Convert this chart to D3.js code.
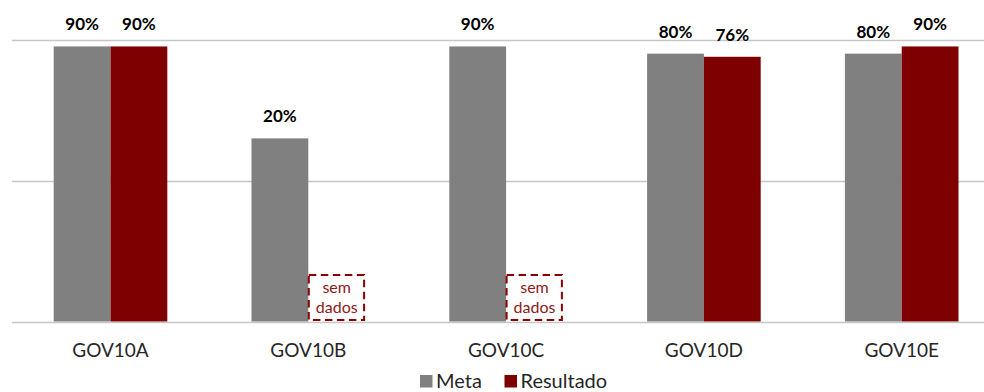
<!DOCTYPE html>
<html><head><meta charset="utf-8">
<script src="https://cdn.jsdelivr.net/npm/d3@7"></script>
<style>html,body{margin:0;padding:0;background:#fff;}svg{display:block;}</style>
</head><body>
<svg id="c" width="984" height="392"></svg>
<script>
const categories = ["GOV10A","GOV10B","GOV10C","GOV10D","GOV10E"];
const seriesNames = ["Meta","Resultado"];
const meta = [90, 20, 90, 80, 80];
const resultado = [90, null, null, 76, 90];
const noDataText = ["sem", "dados"];
const colors = { Meta: "#808080", Resultado: "#7f0000" };

const svg = d3.select("#c");
const FONT = "Lato, 'Open Sans', sans-serif";

const x0 = d3.scaleBand().domain(categories).range([11.6, 1000.6]).padding(0);
const step = x0.bandwidth();
const barW = 56.8;
const x1 = d3.scaleBand().domain(seriesNames).range([step/2 - barW, step/2 + barW]).padding(0);
const y = d3.scaleLog().domain([1, 100]).range([321.5, 40]);

// gridlines
svg.append("g").selectAll("line").data([1, 10, 100]).join("line")
  .attr("x1", 12).attr("x2", 984)
  .attr("y1", d => Math.round(y(d)) + 0.5).attr("y2", d => Math.round(y(d)) + 0.5)
  .attr("stroke", "#c6c6c6").attr("stroke-width", 1.3);

const rows = categories.map((c, i) => ({ cat: c, Meta: meta[i], Resultado: resultado[i], i }));

const groups = svg.append("g").selectAll("g").data(rows).join("g")
  .attr("transform", d => `translate(${x0(d.cat)},0)`);

const present = d => seriesNames.filter(s => d[s] != null).map(s => ({ s, v: d[s], i: d.i }));

groups.selectAll("rect.bar").data(present)
  .join("rect").attr("class", "bar")
  .attr("x", d => x1(d.s)).attr("width", x1.bandwidth())
  .attr("y", d => y(d.v)).attr("height", d => y(1) - y(d.v))
  .attr("fill", d => colors[d.s]);

groups.selectAll("text.val").data(present)
  .join("text").attr("class", "val")
  .attr("x", d => x1(d.s) + x1.bandwidth()/2)
  .attr("y", d => y(d.v) - 16)
  .attr("text-anchor", "middle")
  .attr("font-family", FONT).attr("font-weight", "bold").attr("font-size", 17)
  .attr("fill", "#000")
  .text(d => d.v + "%");

// no-data boxes
const nd = groups.filter(d => d.Resultado == null);
nd.append("rect")
  .attr("x", x1("Resultado") + 0.5).attr("width", x1.bandwidth() - 1.5)
  .attr("y", 275).attr("height", y(1) - 276.5)
  .attr("fill", "none").attr("stroke", "#8b0000").attr("stroke-width", 2)
  .attr("stroke-dasharray", "7.5,4.5");
nd.selectAll("text.nd").data(noDataText).join("text").attr("class", "nd")
  .attr("x", x1("Resultado") + x1.bandwidth()/2)
  .attr("y", (d, k) => 293 + k * 20)
  .attr("text-anchor", "middle")
  .attr("font-family", FONT).attr("font-size", 16)
  .attr("fill", "#8b1a1a")
  .text(d => d);

// category axis labels
svg.append("g").selectAll("text").data(categories).join("text")
  .attr("x", d => x0(d) + step/2).attr("y", 357)
  .attr("text-anchor", "middle")
  .attr("font-family", FONT).attr("font-size", 19)
  .attr("fill", "#262626")
  .text(d => d);

// legend
const legend = svg.append("g");
const legX = { Meta: 420, Resultado: 504.5 };
seriesNames.forEach(s => {
  legend.append("rect").attr("x", legX[s]).attr("y", 375).attr("width", 12.5).attr("height", 12.5).attr("fill", colors[s]);
  legend.append("text").attr("x", legX[s] + 16).attr("y", 387.5)
    .attr("font-family", FONT).attr("font-size", 20).attr("fill", "#262626").text(s);
});
</script>
</body></html>
